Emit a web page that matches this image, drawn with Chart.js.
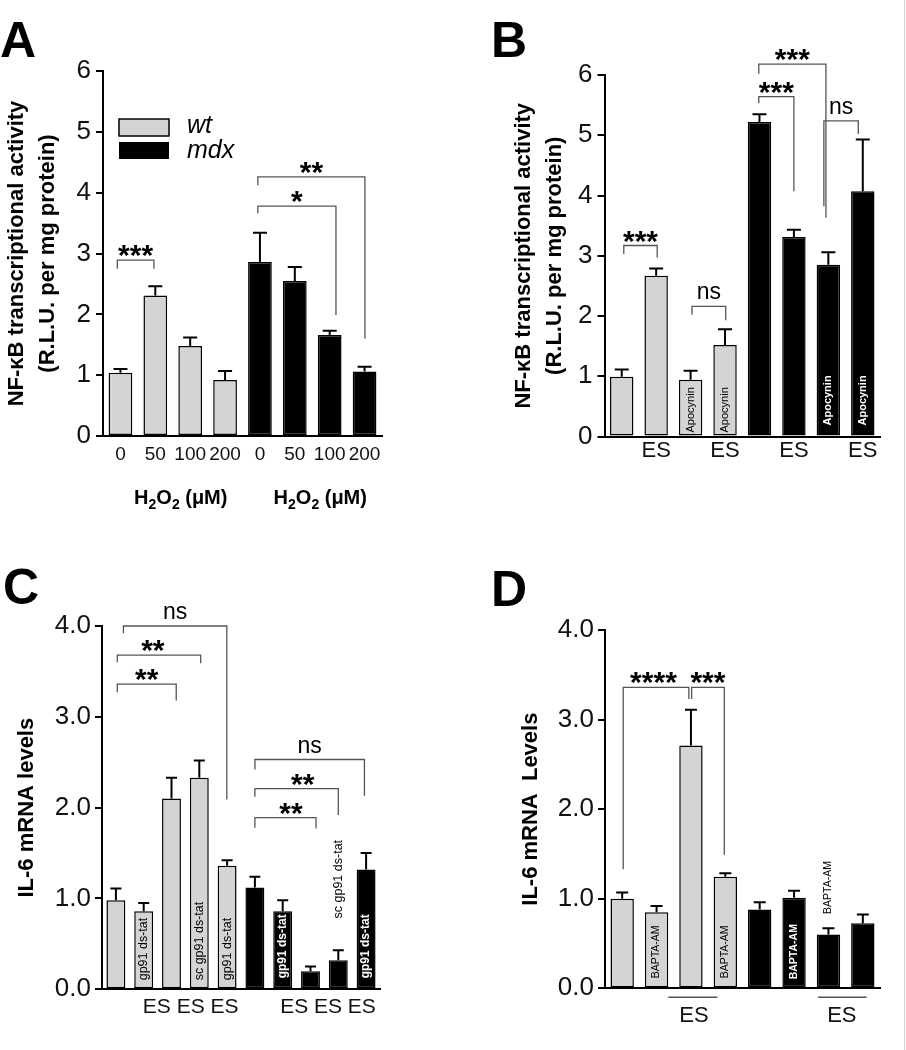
<!DOCTYPE html>
<html>
<head>
<meta charset="utf-8">
<title>NF-kB and IL-6 panels</title>
<script src="https://cdn.jsdelivr.net/npm/chart.js@4.4.0/dist/chart.umd.min.js"></script>
<style>
    html, body { margin: 0; padding: 0; background: #fff; }
    #page { position: relative; width: 906px; height: 1050px; overflow: hidden; }
    #page canvas { position: absolute; }
    #edge { position: absolute; left: 904px; top: 0; width: 1px; height: 1050px; background: #d0d0d0; }
</style>
</head>
<body>
<div id="page">
    <canvas id="chartA" width="453" height="520" style="left:0;top:0;width:453px;height:520px"></canvas>
    <canvas id="chartB" width="453" height="520" style="left:453px;top:0;width:453px;height:520px"></canvas>
    <canvas id="chartC" width="453" height="530" style="left:0;top:520px;width:453px;height:530px"></canvas>
    <canvas id="chartD" width="453" height="530" style="left:453px;top:520px;width:453px;height:530px"></canvas>
    <div id="edge"></div>
</div>
<script>
// DATA

// A: H2O2 dose, wt then mdx
const labelsA = ["0", "50", "100", "200", "0", "50", "100", "200"];
const wtA = [1.04, 2.31, 1.48, 0.92];
const wtSemA = [0.06, 0.15, 0.14, 0.15];
const mdxA = [2.86, 2.55, 1.66, 1.06];
const mdxSemA = [0.48, 0.23, 0.07, 0.08];
const groupTitlesA = ["H2O2 (μM)", "H2O2 (μM)"];
const legendA = ["wt", "mdx"];

// B: ES / apocynin
const labelsB = ["", "ES", "", "ES", "", "ES", "", "ES"];
const wtB = [0.99, 2.67, 0.94, 1.52];
const wtSemB = [0.12, 0.12, 0.15, 0.26];
const mdxB = [5.22, 3.31, 2.85, 4.07];
const mdxSemB = [0.13, 0.12, 0.21, 0.86];
const notesB = ["", "", "Apocynin", "Apocynin", "", "", "Apocynin", "Apocynin"];

// C: gp91ds-tat
const labelsC = ["", "", "", "", "", "", "", "", "", ""];
const wtC = [0.98, 0.86, 2.10, 2.33, 1.36];
const wtSemC = [0.13, 0.09, 0.23, 0.19, 0.06];
const mdxC = [1.12, 0.86, 0.20, 0.32, 1.32];
const mdxSemC = [0.12, 0.12, 0.05, 0.11, 0.18];
const notesC = ["", "gp91 ds-tat", "", "sc gp91 ds-tat", "gp91 ds-tat",
    "", "gp91 ds-tat", "", "sc gp91 ds-tat", "gp91 ds-tat"];
const groupLabelsC = ["ES ES ES", "ES ES ES"];

// D: BAPTA-AM
const labelsD = ["", "", "", "", "", "", "", ""];
const wtD = [1.00, 0.85, 2.71, 1.245];
const wtSemD = [0.07, 0.07, 0.40, 0.04];
const mdxD = [0.88, 1.01, 0.60, 0.725];
const mdxSemD = [0.08, 0.08, 0.07, 0.10];
const notesD = ["", "BAPTA-AM", "", "BAPTA-AM", "", "BAPTA-AM", "BAPTA-AM", ""];
const groupLabelsD = ["ES", "ES"];

const yTicksAB = ["0", "1", "2", "3", "4", "5", "6"];
const yTicksCD = ["0.0", "1.0", "2.0", "3.0", "4.0"];
const yTitleAB = ["NF-κB transcriptional activity", "(R.L.U. per mg protein)"];
const yTitleC = "IL-6 mRNA levels";
const yTitleD = "IL-6 mRNA  Levels";

const FONT = "'Liberation Sans', Arial, Helvetica, sans-serif";
const GREY = "#d4d4d4";

Chart.defaults.font.family = FONT;
Chart.defaults.color = "#111";

function pad(values, before, after) {
    return Array(before).fill(null).concat(values, Array(after).fill(null));
}

// error bars (upper only)
function errorBarPlugin(cap) {
    return {
        id: "errorBars",
        afterDatasetsDraw(chart) {
            const ctx = chart.ctx;
            const ys = chart.scales.y;
            ctx.save();
            ctx.strokeStyle = "#000";
            ctx.lineWidth = 2;
            chart.data.datasets.forEach((ds, di) => {
                const meta = chart.getDatasetMeta(di);
                ds.data.forEach((v, i) => {
                    if (v === null) return;
                    const bar = meta.data[i];
                    const top = ys.getPixelForValue(v);
                    const end = ys.getPixelForValue(v + ds.sem[i]);
                    ctx.beginPath();
                    ctx.moveTo(bar.x, top);
                    ctx.lineTo(bar.x, end);
                    ctx.moveTo(bar.x - cap, end);
                    ctx.lineTo(bar.x + cap, end);
                    ctx.stroke();
                });
            });
            ctx.restore();
        }
    };
}

// significance brackets, positions in category / value units
function bracketPlugin(items) {
    return {
        id: "brackets",
        afterDraw(chart) {
            const ctx = chart.ctx;
            const xs = chart.scales.x;
            const ys = chart.scales.y;
            ctx.save();
            items.forEach(b => {
                const x1 = xs.getPixelForValue(b.from);
                const x2 = xs.getPixelForValue(b.to);
                const yt = ys.getPixelForValue(b.top);
                ctx.strokeStyle = "#555";
                ctx.lineWidth = 1.3;
                ctx.beginPath();
                ctx.moveTo(x1, ys.getPixelForValue(b.leftEnd));
                ctx.lineTo(x1, yt);
                ctx.lineTo(x2, yt);
                ctx.lineTo(x2, ys.getPixelForValue(b.rightEnd));
                ctx.stroke();

                const stars = b.text.includes("*");
                ctx.font = stars ? "bold 30px " + FONT : "23px " + FONT;
                ctx.fillStyle = "#000";
                ctx.textAlign = "center";
                ctx.textBaseline = "alphabetic";
                const tx = xs.getPixelForValue(b.textAt !== undefined ? b.textAt : (b.from + b.to) / 2);
                ctx.fillText(b.text, tx, yt + (stars ? 5 : -7));
            });
            ctx.restore();
        }
    };
}

// rotated labels inside (or above) bars
function notesPlugin(notes, split, style) {
    return {
        id: "barNotes",
        afterDatasetsDraw(chart) {
            const ctx = chart.ctx;
            const ys = chart.scales.y;
            const base = ys.getPixelForValue(0);
            notes.forEach((text, i) => {
                if (!text) return;
                const di = i < split ? 0 : 1;
                const bar = chart.getDatasetMeta(di).data[i];
                const above = style.above[i];
                const white = di === 1 && above === undefined;
                const y0 = above !== undefined
                    ? ys.getPixelForValue(above)
                    : base - (white ? style.boldLift : style.lift);
                ctx.save();
                ctx.font = (white ? "bold " + style.boldSize : style.size) + "px " + FONT;
                ctx.fillStyle = white ? "#fff" : "#000";
                ctx.translate(bar.x, y0);
                ctx.rotate(-Math.PI / 2);
                ctx.textAlign = "left";
                ctx.textBaseline = "middle";
                ctx.fillText(text, 0, 0);
                ctx.restore();
            });
        }
    };
}

function extrasPlugin(draw) {
    return {
        id: "extras",
        afterDraw(chart) {
            draw(chart, chart.ctx);
        }
    };
}

function panelLetter(ctx, letter, x, y) {
    ctx.save();
    ctx.font = "bold 50px " + FONT;
    ctx.fillStyle = "#000";
    ctx.textAlign = "left";
    ctx.textBaseline = "alphabetic";
    ctx.fillText(letter, x, y);
    ctx.restore();
}

// "H2O2 (μM)" with subscripts
function drawH2O2(ctx, cx, baseline) {
    const parts = [["H", 20, 0], ["2", 14, 5], ["O", 20, 0], ["2", 14, 5], [" (μM)", 20, 0]];
    ctx.save();
    ctx.fillStyle = "#000";
    ctx.textAlign = "left";
    ctx.textBaseline = "alphabetic";
    let w = 0;
    parts.forEach(p => {
        ctx.font = "bold " + p[1] + "px " + FONT;
        w += ctx.measureText(p[0]).width;
    });
    let x = cx - w / 2;
    parts.forEach(p => {
        ctx.font = "bold " + p[1] + "px " + FONT;
        ctx.fillText(p[0], x, baseline + p[2]);
        x += ctx.measureText(p[0]).width;
    });
    ctx.restore();
}

// text groups under the axis, optional rule above
function drawGroups(chart, ctx, spans, texts, size, ruleY, textY) {
    const xs = chart.scales.x;
    const base = chart.chartArea.bottom;
    ctx.save();
    ctx.strokeStyle = "#555";
    ctx.lineWidth = 1.5;
    ctx.fillStyle = "#111";
    ctx.font = size + "px " + FONT;
    ctx.textAlign = "center";
    ctx.textBaseline = "alphabetic";
    spans.forEach((s, k) => {
        if (ruleY !== null) {
            ctx.beginPath();
            ctx.moveTo(xs.getPixelForValue(s[0]), base + ruleY);
            ctx.lineTo(xs.getPixelForValue(s[1]), base + ruleY);
            ctx.stroke();
        }
        ctx.fillText(texts[k], xs.getPixelForValue(s[2]), base + textY);
    });
    ctx.restore();
}

function makePanel(cfg) {

    const barStyle = {
        borderColor: "#000",
        borderWidth: 1.5,
        borderSkipped: false,
        grouped: false,
        barPercentage: 0.68,
        categoryPercentage: 1
    };

    return new Chart(document.getElementById(cfg.id), {
        type: "bar",
        data: {
            labels: cfg.labels,
            datasets: [
                Object.assign({
                    label: "wt",
                    data: pad(cfg.wt, 0, cfg.mdx.length),
                    sem: pad(cfg.wtSem, 0, cfg.mdx.length),
                    backgroundColor: GREY
                }, barStyle),
                Object.assign({
                    label: "mdx",
                    data: pad(cfg.mdx, cfg.wt.length, 0),
                    sem: pad(cfg.mdxSem, cfg.wt.length, 0),
                    backgroundColor: "#000"
                }, barStyle)
            ]
        },
        options: {
            responsive: false,
            animation: false,
            layout: {
                padding: { left: 0, top: cfg.top, right: cfg.right, bottom: 0 }
            },
            plugins: {
                legend: { display: false },
                tooltip: { enabled: false }
            },
            scales: {
                x: {
                    afterFit: s => { s.height = cfg.xHeight; },
                    ticks: {
                        font: { size: cfg.xFont },
                        color: "#111",
                        padding: cfg.xPad,
                        autoSkip: false,
                        maxRotation: 0,
                        minRotation: 0
                    },
                    grid: { display: false, drawTicks: false },
                    border: { display: true, color: "#000", width: 2 }
                },
                y: {
                    min: 0,
                    max: cfg.yMax,
                    afterFit: s => { s.width = cfg.yWidth; },
                    ticks: {
                        stepSize: 1,
                        font: { size: 26 },
                        color: "#111",
                        padding: cfg.yPad,
                        callback: (v, i) => cfg.yTicks[i]
                    },
                    grid: {
                        display: true,
                        drawOnChartArea: false,
                        drawTicks: true,
                        tickLength: 7,
                        color: "#000",
                        lineWidth: 2
                    },
                    border: { display: true, color: "#000", width: 2 },
                    title: {
                        display: true,
                        text: cfg.yTitle,
                        color: "#000",
                        font: { size: 22, weight: "bold", lineHeight: cfg.titleLH },
                        padding: { top: cfg.titlePad, bottom: 0 }
                    }
                }
            }
        },
        plugins: [
            errorBarPlugin(cfg.cap),
            notesPlugin(cfg.notes || [], cfg.wt.length, cfg.noteStyle || {}),
            bracketPlugin(cfg.brackets),
            extrasPlugin(cfg.extras)
        ]
    });
}

// PANEL A
makePanel({
    id: "chartA",
    labels: labelsA,
    wt: wtA, wtSem: wtSemA, mdx: mdxA, mdxSem: mdxSemA,
    yMax: 6, yTicks: yTicksAB, yTitle: yTitleAB,
    top: 71, right: 71, yWidth: 103, xHeight: 84,
    xFont: 19, xPad: 7, yPad: 5,
    titlePad: 1.6, titleLH: 1.4, cap: 7,
    brackets: [
        { from: -0.09, to: 0.96, top: 2.89, leftEnd: 2.75, rightEnd: 2.75, text: "***" },
        { from: 3.94, to: 6.18, top: 3.78, leftEnd: 3.66, rightEnd: 1.99, text: "*" },
        { from: 3.94, to: 7.01, top: 4.26, leftEnd: 4.12, rightEnd: 1.60, text: "**" }
    ],
    extras: (chart, ctx) => {
        panelLetter(ctx, "A", 0, 57);
        const a = chart.chartArea;
        const xs = chart.scales.x;
        // legend
        ctx.save();
        ctx.lineWidth = 1.5;
        ctx.strokeStyle = "#000";
        ctx.fillStyle = GREY;
        ctx.fillRect(a.left + 16, a.top + 48, 50, 17);
        ctx.strokeRect(a.left + 16, a.top + 48, 50, 17);
        ctx.fillStyle = "#000";
        ctx.fillRect(a.left + 16, a.top + 71, 50, 17);
        ctx.font = "italic 25px " + FONT;
        ctx.textAlign = "left";
        ctx.textBaseline = "alphabetic";
        ctx.fillText(legendA[0], a.left + 84, a.top + 62);
        ctx.fillText(legendA[1], a.left + 84, a.top + 87);
        ctx.restore();
        // group titles
        drawH2O2(ctx, xs.getPixelForValue(1.73), a.bottom + 68);
        drawH2O2(ctx, xs.getPixelForValue(5.73), a.bottom + 68);
    }
});

// PANEL B
makePanel({
    id: "chartB",
    labels: labelsB,
    wt: wtB, wtSem: wtSemB, mdx: mdxB, mdxSem: mdxSemB,
    yMax: 6, yTicks: yTicksAB, yTitle: yTitleAB,
    top: 75, right: 26, yWidth: 151.5, xHeight: 83.5,
    xFont: 22, xPad: 1, yPad: 5,
    titlePad: 56, titleLH: 1.4, cap: 7,
    notes: notesB,
    noteStyle: { size: 11, boldSize: 11, lift: 4, boldLift: 11, above: {} },
    brackets: [
        { from: 0.06, to: 1.03, top: 3.17, leftEnd: 3.03, rightEnd: 2.97, text: "***" },
        { from: 2.04, to: 3.02, top: 2.16, leftEnd: 2.02, rightEnd: 1.93, text: "ns" },
        { from: 3.98, to: 5.0, top: 5.64, leftEnd: 5.53, rightEnd: 4.07, text: "***" },
        { from: 3.98, to: 5.93, top: 6.18, leftEnd: 6.02, rightEnd: 3.63, text: "***" },
        { from: 5.87, to: 6.87, top: 5.24, leftEnd: 3.82, rightEnd: 5.02, text: "ns" }
    ],
    extras: (chart, ctx) => {
        panelLetter(ctx, "B", 38, 57);
    }
});

// PANEL C
makePanel({
    id: "chartC",
    labels: labelsC,
    wt: wtC, wtSem: wtSemC, mdx: mdxC, mdxSem: mdxSemC,
    yMax: 4, yTicks: yTicksCD, yTitle: yTitleC,
    top: 106, right: 73, yWidth: 102, xHeight: 60.7,
    xFont: 20, xPad: 4, yPad: 4,
    titlePad: 14, titleLH: 1.2, cap: 5.5,
    notes: notesC,
    noteStyle: { size: 12.5, boldSize: 12, lift: 9, boldLift: 11, above: { 8: 0.78 } },
    brackets: [
        { from: 0.05, to: 2.17, top: 3.36, leftEnd: 3.27, rightEnd: 3.18, text: "**" },
        { from: 0.05, to: 3.05, top: 3.68, leftEnd: 3.60, rightEnd: 3.59, text: "**", textAt: 1.33 },
        { from: 0.27, to: 3.99, top: 4.00, leftEnd: 3.92, rightEnd: 2.09, text: "ns" },
        { from: 5.0, to: 7.2, top: 1.89, leftEnd: 1.78, rightEnd: 1.77, text: "**", textAt: 6.3 },
        { from: 5.0, to: 8.0, top: 2.21, leftEnd: 2.12, rightEnd: 1.92, text: "**", textAt: 6.72 },
        { from: 5.0, to: 8.94, top: 2.53, leftEnd: 2.42, rightEnd: 2.13, text: "ns" }
    ],
    extras: (chart, ctx) => {
        panelLetter(ctx, "C", 3, 84);
        drawGroups(chart, ctx, [[0, 0, 2.69], [0, 0, 7.63]], groupLabelsC, 21, null, 24);
    }
});

// PANEL D
makePanel({
    id: "chartD",
    labels: labelsD,
    wt: wtD, wtSem: wtSemD, mdx: mdxD, mdxSem: mdxSemD,
    yMax: 4, yTicks: yTicksCD, yTitle: yTitleD,
    top: 110, right: 26, yWidth: 152, xHeight: 61.7,
    xFont: 21, xPad: 2, yPad: 4,
    titlePad: 65, titleLH: 1.2, cap: 6,
    notes: notesD,
    noteStyle: { size: 10.5, boldSize: 10.5, lift: 10, boldLift: 9, above: { 6: 0.83 } },
    brackets: [
        { from: 0.03, to: 1.94, top: 3.36, leftEnd: 1.33, rightEnd: 3.23, text: "****", textAt: 0.91 },
        { from: 2.02, to: 2.97, top: 3.36, leftEnd: 3.23, rightEnd: 1.49, text: "***" }
    ],
    extras: (chart, ctx) => {
        panelLetter(ctx, "D", 38, 86);
        drawGroups(chart, ctx, [[1.34, 2.77, 2.09], [5.70, 7.11, 6.39]], groupLabelsD, 22, 9, 34);
    }
});
</script>
</body>
</html>
